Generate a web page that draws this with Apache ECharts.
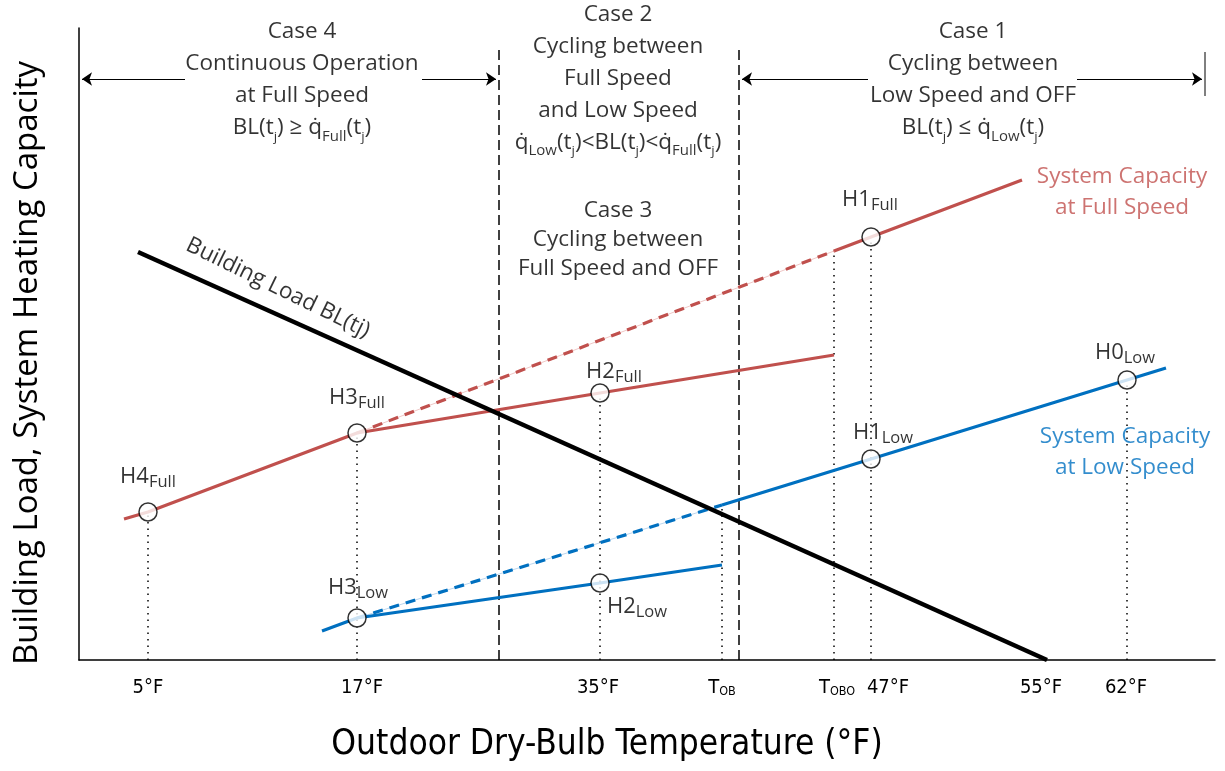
<!DOCTYPE html>
<html><head><meta charset="utf-8">
<script src="https://cdn.jsdelivr.net/npm/echarts@6/dist/echarts.min.js"></script>
<style>html,body{margin:0;padding:0;background:#fff}#c{width:1225px;height:771px}</style>
</head><body><div id="c"></div>
<script>
// ---- schematic coordinates: x = position along the (non-linear) temperature axis, y = capacity / load (arbitrary units)
const xMax = 113.6, yMax = 63.2;

const buildingLoad      = [[5.9, 40.8], [96.8, 0]];
const fullSpeedSolid    = [[4.5, 14.1], [6.9, 14.8], [27.8, 22.7], [52.1, 26.7], [75.5, 30.5]];
const fullSpeedDashed   = [[27.8, 22.7], [75.5, 40.9]];
const fullSpeedUpper    = [[75.5, 40.9], [79.2, 42.3], [94.3, 48.0]];
const lowSpeedSolid     = [[24.3, 2.9], [27.8, 4.2], [52.1, 7.7], [64.3, 9.5]];
const lowSpeedDashed    = [[27.8, 4.2], [64.3, 15.5]];
const lowSpeedUpper     = [[64.3, 15.5], [79.2, 20.1], [104.8, 28.0], [108.7, 29.2]];

const ratingPoints = [[6.9, 14.8], [27.8, 22.7], [52.1, 26.7], [79.2, 42.3], [27.8, 4.2], [52.1, 7.7], [79.2, 20.1], [104.8, 28.0]];
const pointLabels  = ['H4{p|Full}', 'H3{p|Full}', 'H2{p|Full}', 'H1{p|Full}', 'H3{p|Low}', 'H2{p|Low}', 'H1{p|Low}', 'H0{p|Low}'];
const pointLabelAt = [[6.9, 18.3], [27.8, 26.2], [53.5, 28.8], [79.1, 46.0], [27.9, 7.2], [55.8, 5.3], [80.4, 22.7], [104.6, 30.7]];

const dropLines = [[6.9, 14.8], [27.8, 22.7], [52.1, 26.7], [64.3, 15.5], [75.5, 40.9], [79.2, 42.3], [104.8, 28.0]];

const caseBounds = [42.0, 66.0];
const caseBoundTop = 61.2;
const arrowY = 58.1;
const caseArrows = [[10.6, 0.3], [34.3, 41.7], [78.9, 66.3], [99.8, 112.3]];
const rightBound = [[112.6, 60.8], [112.6, 56.4]];

const tickPos    = [6.9, 28.3, 51.9, 64.3, 75.8, 80.9, 96.2, 104.7];
const tickLabels = ['5°F', '17°F', '35°F', 'T{s|OB}', 'T{s|OBO}', '47°F', '55°F', '62°F'];

const caseTextAt = [[22.3, 58.0], [53.9, 58.15], [53.9, 42.0], [89.4, 58.0]];
const caseTexts = [
  'Case 4\nContinuous Operation\nat Full Speed\nBL(t{j|j}) ≥ q̇{s|Full}(t{j|j})',
  'Case 2\nCycling between\nFull Speed\nand Low Speed\nq̇{s|Low}(t{j|j})<BL(t{j|j})<q̇{s|Full}(t{j|j})',
  'Case 3\nCycling between\nFull Speed and OFF',
  'Case 1\nCycling between\nLow Speed and OFF\nBL(t{j|j}) ≤ q̇{s|Low}(t{j|j})'
];
const curveTextAt = [[104.3, 46.75], [104.6, 20.75]];
const curveTexts  = ['System Capacity\nat Full Speed', 'System Capacity\nat Low Speed'];
const loadTextAt  = [[19.9, 37.2]];
const loadText    = ['Building Load BL(tj)'];

// ---- styles
const RED = '#C0504D', BLUE = '#0070C0';
const FONT = '"Open Sans", "Noto Sans", sans-serif';
const NARROW = '"Liberation Sans Narrow", "DejaVu Sans Condensed", "Open Sans", sans-serif';
const subRich = { s: { fontSize: 15, lineHeight: 20, verticalAlign: 'bottom', fontFamily: FONT },
                  j: { fontSize: 13.5, lineHeight: 20, verticalAlign: 'bottom', fontFamily: FONT },
                  p: { fontSize: 16.5, lineHeight: 22, verticalAlign: 'bottom', fontFamily: FONT } };

function lineSeries(data, color, width, type, z) {
  return { type: 'line', data: data, symbol: 'none', showSymbol: false, silent: true, z: z || 2,
           lineStyle: { color: color, width: width, type: type || 'solid', cap: 'butt' } };
}
function textSeries(points, texts, label, z) {
  return { type: 'scatter', data: points, symbolSize: 1, silent: true, z: z || 10,
           itemStyle: { color: 'rgba(0,0,0,0)' },
           label: Object.assign({ show: true, position: 'inside', color: '#000', fontFamily: FONT, fontSize: 22.5,
                                  formatter: p => texts[p.dataIndex], rich: subRich }, label) };
}

const series = [];
// case boundaries (dashed)
caseBounds.forEach(x => series.push(lineSeries([[x, 0], [x, caseBoundTop]], '#000', 1.5, [10, 5], 1)));
// dotted drop lines
dropLines.forEach(p => series.push(lineSeries([[p[0], 0], p], '#000', 1.5, [1.5, 5], 1)));
// faint guide lines under dashed extensions
series.push(lineSeries(fullSpeedDashed, '#EBB9B8', 0.8, 'solid', 2));
series.push(lineSeries(lowSpeedDashed, '#A9CCEA', 0.8, 'solid', 2));
// capacity curves
series.push(lineSeries(fullSpeedSolid, RED, 3.2, 'solid', 3));
series.push(lineSeries(fullSpeedDashed, RED, 3.2, [10, 7], 3));
series.push(lineSeries(fullSpeedUpper, RED, 3.2, 'solid', 3));
series.push(lineSeries(lowSpeedSolid, BLUE, 3.2, 'solid', 3));
series.push(lineSeries(lowSpeedDashed, BLUE, 3.2, [10, 7], 3));
series.push(lineSeries(lowSpeedUpper, BLUE, 3.2, 'solid', 3));
// building load
series.push(lineSeries(buildingLoad, '#000', 4.5, 'solid', 4));
// case 1 right boundary + arrows
const rb = lineSeries(rightBound, '#000', 1, 'solid', 2);
rb.markLine = { silent: true, symbol: ['none', 'arrow'], symbolSize: 10, animation: false,
  label: { show: false }, lineStyle: { color: '#000', width: 1, type: 'solid' },
  data: caseArrows.map(a => [{ coord: [a[0], arrowY] }, { coord: [a[1], arrowY] }]) };
series.push(rb);
// rating points
series.push({ type: 'scatter', data: ratingPoints, symbol: 'circle', symbolSize: 18, silent: true, z: 6,
  itemStyle: { color: '#fff', borderColor: '#000', borderWidth: 1.5 } });
// texts
series.push(textSeries(pointLabelAt, pointLabels, { fontSize: 22, lineHeight: 28 }));
const caseSeries = textSeries(caseTextAt, caseTexts, { lineHeight: 32 });
caseSeries.data = caseTextAt.map((p, i) => i === 2 ? { value: p, label: { lineHeight: 29 } } : p);
series.push(caseSeries);
const curveSeries = textSeries(curveTextAt, curveTexts, { lineHeight: 31 });
curveSeries.data = curveTextAt.map((p, i) => ({ value: p, label: { color: i === 0 ? RED : BLUE } }));
series.push(curveSeries);
series.push(textSeries(loadTextAt, loadText, { rotate: -26 }));

const chart = echarts.init(document.getElementById('c'), null, { renderer: 'canvas' });
chart.setOption({
  animation: false,
  backgroundColor: '#fff',
  grid: { left: 79, right: 10, top: 28, bottom: 111 },
  xAxis: {
    type: 'value', min: 0, max: xMax,
    name: 'Outdoor Dry-Bulb Temperature (°F)', nameLocation: 'middle', nameGap: 67,
    nameTextStyle: { fontFamily: NARROW, fontSize: 35, color: '#000', padding: [0, 80, 0, 0] },
    axisLine: { show: true, lineStyle: { color: '#000', width: 1.5 } },
    axisTick: { show: false }, splitLine: { show: false },
    axisLabel: {
      customValues: tickPos, margin: 18, color: '#000', fontFamily: NARROW, fontSize: 20,
      formatter: function (v) {
        let best = 0;
        tickPos.forEach((t, i) => { if (Math.abs(t - v) < Math.abs(tickPos[best] - v)) best = i; });
        return tickLabels[best];
      },
      rich: { s: { fontSize: 12.5, lineHeight: 19, verticalAlign: 'bottom', fontFamily: NARROW } }
    }
  },
  yAxis: {
    type: 'value', min: 0, max: yMax,
    name: 'Building Load, System Heating Capacity', nameLocation: 'middle', nameGap: 35,
    nameTextStyle: { fontFamily: FONT, fontSize: 33, color: '#000', padding: [0, 38, 0, 0] },
    axisLine: { show: true, onZero: false, lineStyle: { color: '#000', width: 1.5 } },
    axisTick: { show: false }, splitLine: { show: false }, axisLabel: { show: false }
  },
  series: series
});
</script>
</body></html>
